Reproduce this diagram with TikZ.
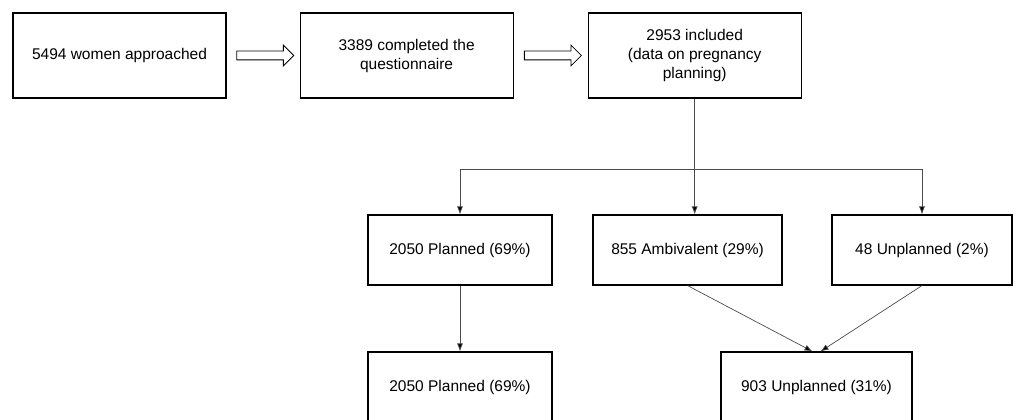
\documentclass[tikz,border=0pt]{standalone}
\usepackage{fontspec}
\setmainfont{Liberation Sans}
\usetikzlibrary{arrows.meta,shapes.arrows,positioning,calc}

\begin{document}
\begin{tikzpicture}[x=1pt,y=1pt,
		basic/.style   = {draw, rectangle, line width=1.1pt, align=center, font=\fontsize{15.5}{19}\selectfont},
		top box/.style = {basic, minimum width=213pt, minimum height=85pt},
		mid box/.style = {basic, minimum height=70pt},
		hollow/.style  = {draw, single arrow, line width=0.8pt, minimum height=57pt, inner sep=4pt, single arrow head extend=6pt},
		link/.style    = {draw=black!70, line width=0.7pt},
		>={Latex[length=8pt,width=6pt,fill=black]}]
	
	\useasboundingbox (0,0) rectangle (1022,-420);
	
	% first row, the recruitment steps
	\node[top box] (approached) at (119.5,-55.5) {5494 women approached};
	\node[top box, right=73pt of approached] (completed) {3389 completed the\\questionnaire};
	\node[top box, right=74pt of completed] (included) {2953 included\\(data on pregnancy\\planning)};
	
	% hollow arrows between the first row boxes
	\node[hollow] (arrowA) at ($(approached.east)!0.5!(completed.west)$) {};
	\node[hollow] (arrowB) at ($(completed.east)!0.5!(included.west)$) {};
	
	% second row, the three answers
	\node[mid box, minimum width=184pt] (planned) at (460,-250) {2050 Planned (69\%)};
	\node[mid box, minimum width=189pt] (ambivalent) at (687.5,-250) {855 Ambivalent (29\%)};
	\node[mid box, minimum width=180pt] (unplanned) at (922,-250) {48 Unplanned (2\%)};
	
	% third row, the two groups
	\node[mid box, minimum width=184pt] (plannedtotal) at (460,-387) {2050 Planned (69\%)};
	\node[mid box, minimum width=191pt] (unplannedtotal) at (816.5,-387) {903 Unplanned (31\%)};
	
	% lines from the included box to every answer
	\path (included.south) ++(0,-71) coordinate (fork);
	\draw[link] (included.south) -- (fork);
	\draw[link,->] (fork) -- (fork |- ambivalent.north);
	\foreach \value in {planned,unplanned}
	\draw[link,->] (fork) -| (\value.north);
	
	% lines into the two groups
	\draw[link,->] (planned) -- (plannedtotal);
	\draw[link,->] (ambivalent.south) -- ($(unplannedtotal.north)+(-4,0)$);
	\draw[link,->] (unplanned.south) -- ($(unplannedtotal.north)+(4,0)$);
	
\end{tikzpicture}
\end{document}
